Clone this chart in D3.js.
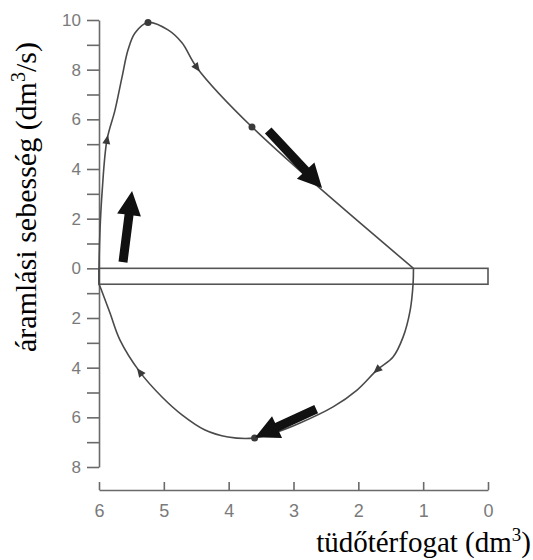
<!DOCTYPE html>
<html>
<head>
<meta charset="utf-8">
<script src="https://cdn.jsdelivr.net/npm/d3@7"></script>
<style>
  body { margin: 0; background: #fff; }
  svg { display: block; }
</style>
</head>
<body>
<svg id="chart" width="533" height="560"></svg>
<script>
// volume (dm3), flow (dm3/s)
var expiration = [
  [6.00, -0.64], [6.00, 0], [5.985, 1.5], [5.95, 3.15], [5.877, 5.17], [5.753, 6.37],
  [5.645, 7.70], [5.553, 8.79], [5.445, 9.48], [5.244, 9.9], [4.936, 9.60], [4.72, 9.08],
  [4.49, 8.08], [3.64, 5.69], [1.15, 0]
];
var inspiration = [
  [1.15, 0], [1.155, -0.6], [1.20, -1.68], [1.31, -2.77], [1.465, -3.57], [1.71, -4.09],
  [2.02, -4.9], [2.39, -5.58], [2.90, -6.23], [3.25, -6.59], [3.60, -6.83], [4.01, -6.79],
  [4.365, -6.51], [4.72, -5.90], [5.028, -5.18], [5.368, -4.18], [5.676, -2.89],
  [5.83, -1.8], [5.98, -0.76], [6.00, -0.64]
];
var triangleMarks = [[5.877, 5.17], [4.49, 8.08], [1.71, -4.09], [5.368, -4.18]];
var dotMarks = [[5.244, 9.9], [3.64, 5.69], [3.60, -6.83]];
var bigArrows = [
  { from: [5.63, 0.25], to: [5.49, 3.11] },
  { from: [3.39, 5.55], to: [2.56, 3.23] },
  { from: [2.65, -5.67], to: [3.59, -6.8] }
];
var residualBar = { from: 6, to: 0, top: 0, bottom: -0.64 };
var xTicks = [6, 5, 4, 3, 2, 1, 0];
var yTicks = d3.range(-8, 11);
var xTitle = 'tüdőtérfogat (dm';
var yTitle = 'áramlási sebesség (dm';

var svg = d3.select('#chart');

/* Scales */
var x = d3.scaleLinear().domain([6, 0]).range([99, 488]);
var y = d3.scaleLinear().domain([-8, 10]).range([467, 20]);

/* Axes */
var yAxis = d3.axisLeft(y)
  .tickValues(yTicks)
  .tickSize(12)
  .tickSizeOuter(0)
  .tickPadding(6)
  .tickFormat(function (d) { return d % 2 === 0 ? Math.abs(d) : ''; });

var xAxis = d3.axisBottom(x)
  .tickValues(xTicks)
  .tickSizeInner(-8)
  .tickSizeOuter(0)
  .tickPadding(14)
  .tickFormat(d3.format('d'));

var gy = svg.append('g')
  .attr('transform', 'translate(' + x(6) + ',0)')
  .call(yAxis);

var gx = svg.append('g')
  .attr('transform', 'translate(0,490)')
  .call(xAxis);

[gx, gy].forEach(function (g) {
  g.selectAll('path, line').attr('stroke', '#6a6a6a').attr('stroke-width', 1.6);
  g.selectAll('text')
    .attr('fill', '#7a7a7a')
    .style('font-family', '"Liberation Sans", Arial, sans-serif');
});
gy.selectAll('text').style('font-size', '17px');
gx.selectAll('text').style('font-size', '18px');

/* Residual volume bar */
svg.append('rect')
  .attr('x', x(residualBar.from))
  .attr('y', y(residualBar.top))
  .attr('width', x(residualBar.to) - x(residualBar.from))
  .attr('height', y(residualBar.bottom) - y(residualBar.top))
  .attr('fill', 'none')
  .attr('stroke', '#555')
  .attr('stroke-width', 1.6);

/* Loop */
var line = d3.line()
  .x(function (d) { return x(d[0]); })
  .y(function (d) { return y(d[1]); })
  .curve(d3.curveCatmullRom.alpha(0.5));

var paths = [expiration, inspiration].map(function (pts) {
  return svg.append('path')
    .attr('d', line(pts))
    .attr('fill', 'none')
    .attr('stroke', '#4a4a4a')
    .attr('stroke-width', 1.6)
    .node();
});

/* direction of the loop at a given data point */
function tangentAt(p) {
  var px = x(p[0]), py = y(p[1]);
  var best = null;
  paths.forEach(function (node) {
    var len = node.getTotalLength();
    for (var l = 0; l <= len; l += 0.5) {
      var q = node.getPointAtLength(l);
      var dd = (q.x - px) * (q.x - px) + (q.y - py) * (q.y - py);
      if (!best || dd < best.dd) best = { dd: dd, node: node, l: l, len: len };
    }
  });
  var a = best.node.getPointAtLength(Math.max(0, best.l - 3));
  var b = best.node.getPointAtLength(Math.min(best.len, best.l + 3));
  return Math.atan2(b.y - a.y, b.x - a.x) * 180 / Math.PI;
}

svg.selectAll('path.tri')
  .data(triangleMarks)
  .join('path')
  .attr('class', 'tri')
  .attr('d', 'M5,0 L-4,-4 L-4,4 Z')
  .attr('fill', '#3a3a3a')
  .attr('transform', function (d) {
    return 'translate(' + x(d[0]) + ',' + y(d[1]) + ') rotate(' + tangentAt(d) + ')';
  });

svg.selectAll('circle.dot')
  .data(dotMarks)
  .join('circle')
  .attr('class', 'dot')
  .attr('cx', function (d) { return x(d[0]); })
  .attr('cy', function (d) { return y(d[1]); })
  .attr('r', 3.5)
  .attr('fill', '#3a3a3a');

/* Big black arrows */
function arrowPoly(d) {
  var x0 = x(d.from[0]), y0 = y(d.from[1]);
  var x1 = x(d.to[0]), y1 = y(d.to[1]);
  var dx = x1 - x0, dy = y1 - y0;
  var L = Math.sqrt(dx * dx + dy * dy);
  var ux = dx / L, uy = dy / L, nx = -uy, ny = ux;
  var hw = 4.5, hh = 12, hl = 24;
  var bx = x1 - ux * hl, by = y1 - uy * hl;
  var pts = [
    [x0 + nx * hw, y0 + ny * hw],
    [bx + nx * hw, by + ny * hw],
    [bx + nx * hh, by + ny * hh],
    [x1, y1],
    [bx - nx * hh, by - ny * hh],
    [bx - nx * hw, by - ny * hw],
    [x0 - nx * hw, y0 - ny * hw]
  ];
  return 'M' + pts.map(function (p) { return p.join(','); }).join('L') + 'Z';
}

svg.selectAll('path.big')
  .data(bigArrows)
  .join('path')
  .attr('class', 'big')
  .attr('d', arrowPoly)
  .attr('fill', '#111');

/* Titles */
var serif = '"Liberation Serif", "Times New Roman", serif';

var xt = svg.append('text')
  .attr('x', 531)
  .attr('y', 552)
  .attr('text-anchor', 'end')
  .style('font-family', serif)
  .style('font-size', '29px')
  .attr('fill', '#000');
xt.append('tspan').text(xTitle);
xt.append('tspan').attr('dy', -11).style('font-size', '19px').text('3');
xt.append('tspan').attr('dy', 11).text(')');

var yt = svg.append('text')
  .attr('transform', 'translate(36,197) rotate(-90)')
  .attr('text-anchor', 'middle')
  .style('font-family', serif)
  .style('font-size', '30px')
  .attr('fill', '#000');
yt.append('tspan').text(yTitle);
yt.append('tspan').attr('dy', -11).style('font-size', '20px').text('3');
yt.append('tspan').attr('dy', 11).text('/s)');
</script>
</body>
</html>
